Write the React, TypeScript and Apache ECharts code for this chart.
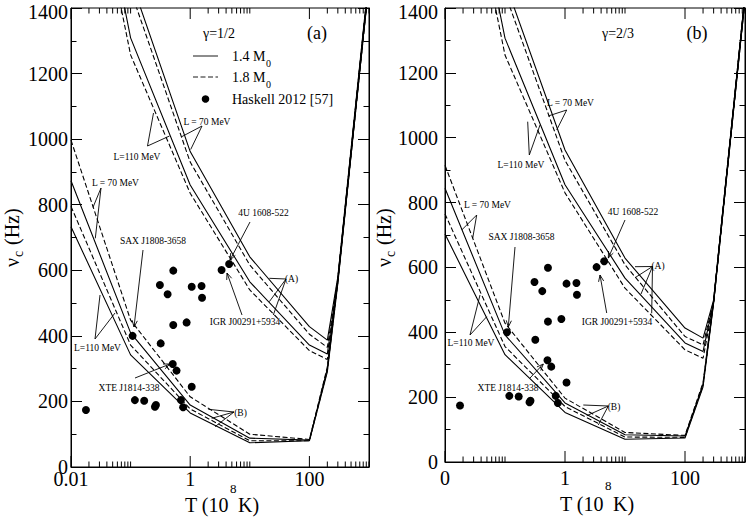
import React, { useEffect, useRef } from "react";
import * as echarts from "echarts";

// ---------- data ----------
const T_UPPER = [0.05, 0.1, 1, 10, 100, 200, 300, 1000];
const T_LOWER = [0.01, 0.1, 1, 10, 100, 200, 300, 1000];

// panel (a)  gamma = 1/2
const A_UP_L70_M14 = [1760, 1488, 962, 641, 428, 387, 580, 1500];
const A_UP_L70_M18 = [1720, 1453, 930, 616, 405, 365, 575, 1490];
const A_UP_L110_M14 = [1584, 1309, 860, 565, 372, 345, 570, 1480];
const A_UP_L110_M18 = [1528, 1257, 835, 540, 355, 328, 565, 1475];
const A_LO_L70_M18 = [997, 448, 214, 100, 84, 305, 575, 1495];
const A_LO_L70_M14 = [873, 409, 189, 88, 82, 300, 570, 1490];
const A_LO_L110_M18 = [795, 372, 177, 80, 80, 295, 565, 1485];
const A_LO_L110_M14 = [733, 342, 165, 74, 80, 290, 560, 1480];

// panel (b)  gamma = 2/3
const B_UP_L70_M14 = [1760, 1480, 962, 629, 413, 382, 500, 1440];
const B_UP_L70_M18 = [1720, 1445, 930, 608, 387, 361, 497, 1435];
const B_UP_L110_M14 = [1584, 1307, 855, 567, 367, 341, 494, 1430];
const B_UP_L110_M18 = [1530, 1255, 830, 536, 346, 320, 490, 1425];
const B_LO_L70_M18 = [915, 428, 197, 91, 82, 245, 500, 1440];
const B_LO_L70_M14 = [844, 392, 182, 84, 80, 240, 497, 1435];
const B_LO_L110_M18 = [765, 356, 171, 77, 76, 236, 494, 1430];
const B_LO_L110_M14 = [703, 331, 153, 70, 74, 232, 490, 1425];

// Haskell 2012 [57]
const HASKELL_T = [0.0178, 0.108, 0.118, 0.169, 0.256, 0.266, 0.31, 0.32, 0.418, 0.52, 0.52, 0.51, 0.59, 0.7, 0.76, 0.87, 1.06, 1.06, 1.55, 1.58, 3.36, 4.5];
const HASKELL_NU = [174, 400, 204, 202, 184, 189, 555, 377, 527, 599, 433, 314, 294, 204, 182, 441, 550, 245, 552, 516, 601, 619];

// axes
const X_MIN = 0.01;
const X_MAX = 1000;
const X_MAJOR = [0.01, 1, 100];
const X_LABELS_A = ["0.01", "1", "100"];
const X_LABELS_B = ["0", "1", "100"];
const MINOR_MULT = [2, 3, 4, 5, 6, 7, 8, 9, 10];
const Y_MIN = 0;
const Y_MAX = 1400;
const Y_STEP = 200;

const FONT = "'Liberation Serif', 'Times New Roman', Times, serif";

// ---------- helpers ----------
type Curve = { t: number[]; v: number[]; dashed: boolean };

const PANELS: { curves: Curve[]; labels: string[] }[] = [
  {
    labels: X_LABELS_A,
    curves: [
      { t: T_UPPER, v: A_UP_L70_M14, dashed: false },
      { t: T_UPPER, v: A_UP_L70_M18, dashed: true },
      { t: T_UPPER, v: A_UP_L110_M14, dashed: false },
      { t: T_UPPER, v: A_UP_L110_M18, dashed: true },
      { t: T_LOWER, v: A_LO_L70_M18, dashed: true },
      { t: T_LOWER, v: A_LO_L70_M14, dashed: false },
      { t: T_LOWER, v: A_LO_L110_M18, dashed: true },
      { t: T_LOWER, v: A_LO_L110_M14, dashed: false },
    ],
  },
  {
    labels: X_LABELS_B,
    curves: [
      { t: T_UPPER, v: B_UP_L70_M14, dashed: false },
      { t: T_UPPER, v: B_UP_L70_M18, dashed: true },
      { t: T_UPPER, v: B_UP_L110_M14, dashed: false },
      { t: T_UPPER, v: B_UP_L110_M18, dashed: true },
      { t: T_LOWER, v: B_LO_L70_M18, dashed: true },
      { t: T_LOWER, v: B_LO_L70_M14, dashed: false },
      { t: T_LOWER, v: B_LO_L110_M18, dashed: true },
      { t: T_LOWER, v: B_LO_L110_M14, dashed: false },
    ],
  },
];

const DASH = [5, 2.5];

function txt(x: number, y: number, text: string, size: number, align = "center") {
  return {
    type: "text",
    x,
    y,
    silent: true,
    style: { text, fontSize: size, fontFamily: FONT, fill: "#000", align, verticalAlign: "middle" },
  };
}
function seg(x1: number, y1: number, x2: number, y2: number, dash?: number[]) {
  return {
    type: "line",
    silent: true,
    shape: { x1, y1, x2, y2 },
    style: { stroke: "#000", lineWidth: 0.9, lineDash: dash || null },
  };
}
function arrow(x1: number, y1: number, x2: number, y2: number) {
  const a = Math.atan2(y2 - y1, x2 - x1);
  const L = 7;
  const w = 0.38;
  const p1 = [x2 - L * Math.cos(a - w), y2 - L * Math.sin(a - w)];
  const p2 = [x2 - L * Math.cos(a + w), y2 - L * Math.sin(a + w)];
  return [
    seg(x1, y1, x2, y2),
    {
      type: "polyline",
      silent: true,
      shape: { points: [p1, [x2, y2], p2] },
      style: { stroke: "#000", fill: null, lineWidth: 0.9 },
    },
  ];
}
function fan(x: number, y: number, ends: number[][]) {
  return ends.map((e) => seg(x, y, e[0], e[1]));
}

const ANN = 9.5;

function buildGraphics() {
  const g: any[] = [];
  // ----- panel (a) texts -----
  g.push(txt(219, 33, "γ=1/2", 14));
  g.push(txt(317, 33, "(a)", 18));
  // legend
  g.push(seg(193, 56, 218, 56));
  g.push(seg(193, 77, 218, 77, DASH));
  g.push({ type: "circle", silent: true, shape: { cx: 205.5, cy: 99, r: 3.8 }, style: { fill: "#000" } });
  g.push(txt(232, 56, "1.4 M", 14, "left"));
  g.push(txt(266, 63, "0", 10, "left"));
  g.push(txt(232, 77, "1.8 M", 14, "left"));
  g.push(txt(266, 84, "0", 10, "left"));
  g.push(txt(232, 99, "Haskell 2012 [57]", 14, "left"));

  // annotations (a)
  g.push(txt(207, 122, "L = 70 MeV", ANN));
  g.push(...fan(202, 126, [[181.7, 136.7], [190.7, 149.5]]));
  g.push(txt(137, 157, "L=110 MeV", ANN));
  g.push(...fan(147.5, 146, [[153.5, 113], [169.5, 136]]));
  g.push(txt(115.5, 183, "L = 70 MeV", ANN));
  g.push(...fan(101, 188, [[93, 207.3], [95.3, 238.3]]));
  g.push(txt(97.5, 348, "L=110 MeV", ANN));
  g.push(...fan(95, 339, [[100, 295], [115, 313]]));
  g.push(txt(153, 241, "SAX J1808-3658", ANN));
  g.push(...arrow(143, 250, 134, 327));
  g.push(txt(129, 388, "XTE J1814-338", ANN));
  g.push(...arrow(135, 378, 170, 364));
  g.push(txt(263.5, 213, "4U 1608-522", ANN));
  g.push(...arrow(250, 222, 230, 260));
  g.push(txt(245, 322, "IGR J00291+5934", ANN));
  g.push(...arrow(242, 315, 227, 273));
  g.push(txt(291.5, 279, "(A)", ANN));
  g.push(...fan(286, 279, [[269.3, 278.3], [269.3, 301.7], [273.3, 315]]));
  g.push(txt(240.5, 413, "(B)", ANN));
  g.push(...fan(234, 412, [[208.3, 409.3], [211.7, 418.3], [215, 426.7]]));

  // ----- panel (b) texts -----
  g.push(txt(618, 33, "γ=2/3", 14));
  g.push(txt(697, 33, "(b)", 18));
  g.push(txt(570.5, 103, "L = 70 MeV", ANN));
  g.push(...fan(566.7, 110, [[548.3, 116], [556.7, 130]]));
  g.push(txt(521, 165, "L=110 MeV", ANN));
  g.push(...fan(529.3, 155, [[527.7, 121.7], [540, 125]]));
  g.push(txt(487.5, 205, "L = 70 MeV", ANN));
  g.push(...fan(476.7, 215, [[461.7, 230], [472.7, 238.3]]));
  g.push(txt(471, 343, "L=110 MeV", ANN));
  g.push(...fan(470, 335, [[480, 295], [486.7, 316.7]]));
  g.push(txt(521.5, 237, "SAX J1808-3658", ANN));
  g.push(...arrow(515, 247, 508.3, 327));
  g.push(txt(508, 388, "XTE J1814-338", ANN));
  g.push(...arrow(530, 378, 543.3, 364));
  g.push(txt(633, 212, "4U 1608-522", ANN));
  g.push(...arrow(625, 220, 608.3, 258));
  g.push(txt(617, 322, "IGR J00291+5934", ANN));
  g.push(...arrow(606.7, 313, 600, 275));
  g.push(txt(658, 266, "(A)", ANN));
  g.push(...fan(652.5, 266.5, [[635, 266.7], [635, 277.7], [641, 294], [651.7, 313.3]]));
  g.push(txt(614, 406.7, "(B)", ANN));
  g.push(...fan(608.3, 406, [[583.3, 405], [586.7, 415.7], [598.3, 425]]));

  // ----- axis titles -----
  const xTitle = (x0: number, y: number, ySup: number) => [
    txt(x0, y, "T (10", 20, "left"),
    txt(x0 + 45, ySup, "8", 13, "left"),
    txt(x0 + 53, y, "K)", 20, "left"),
  ];
  g.push(...xTitle(185, 505, 488));
  g.push(...xTitle(560, 504, 485));

  const yTitle = (x: number, y: number) => ({
    type: "group",
    x,
    y,
    rotation: Math.PI / 2,
    silent: true,
    children: [
      txt(-30, 0, "ν", 20, "left"),
      txt(-20, 6, "c", 14, "left"),
      txt(-8, 0, "(Hz)", 20, "left"),
    ],
  });
  g.push(yTitle(12, 237));
  g.push(yTitle(384, 237));
  return g;
}

function tickSeries(panel: number) {
  return {
    type: "custom",
    xAxisIndex: panel,
    yAxisIndex: panel * 2,
    silent: true,
    clip: false,
    z: 10,
    data: [[1, 0]],
    renderItem: (_p: any, api: any) => {
      const children: any[] = [];
      const add = (t: number, len: number) => {
        const b = api.coord([t, Y_MIN]);
        const tp = api.coord([t, Y_MAX]);
        children.push({ type: "line", shape: { x1: b[0], y1: b[1], x2: b[0], y2: b[1] - len }, style: { stroke: "#000", lineWidth: 1 } });
        children.push({ type: "line", shape: { x1: tp[0], y1: tp[1], x2: tp[0], y2: tp[1] + len }, style: { stroke: "#000", lineWidth: 1 } });
      };
      X_MAJOR.forEach((t) => add(t, 11));
      X_MAJOR.forEach((m) =>
        MINOR_MULT.forEach((k) => {
          const t = m * k;
          if (t <= X_MAX * 1.0001) add(t, 5.5);
        })
      );
      return { type: "group", children };
    },
  };
}

function buildOption() {
  const grids = [
    { left: 71, top: 8, width: 298, height: 459 },
    { left: 445, top: 8, width: 300, height: 454 },
  ].map((g) => ({
    ...g,
    show: true,
    borderColor: "#000",
    borderWidth: 1,
    backgroundColor: "transparent",
    containLabel: false,
    outerBoundsMode: "none",
  }));

  const xAxes = PANELS.map((p, i) => ({
    type: "log",
    logBase: 10,
    gridIndex: i,
    min: X_MIN,
    max: X_MAX,
    axisLine: { show: true, lineStyle: { color: "#000", width: 1 } },
    axisTick: { show: false },
    splitLine: { show: false },
    axisLabel: {
      show: true,
      color: "#000",
      fontFamily: FONT,
      fontSize: 20,
      margin: i === 0 ? 2 : 6,
      showMinLabel: true,
      showMaxLabel: true,
      formatter: (v: number) => {
        const l = Math.round(Math.log10(v));
        const idx = X_MAJOR.findIndex((m) => Math.round(Math.log10(m)) === l);
        return idx >= 0 ? p.labels[idx] : "";
      },
    },
  }));

  const yAxes: any[] = [];
  PANELS.forEach((_p, i) => {
    ["left", "right"].forEach((pos) => {
      yAxes.push({
        type: "value",
        gridIndex: i,
        position: pos,
        min: Y_MIN,
        max: Y_MAX,
        interval: Y_STEP,
        axisLine: { show: true, lineStyle: { color: "#000", width: 1 } },
        axisTick: { show: true, inside: true, length: 11, lineStyle: { color: "#000", width: 1 } },
        minorTick: { show: true, splitNumber: 2, length: 5.5, lineStyle: { color: "#000", width: 1 } },
        splitLine: { show: false },
        minorSplitLine: { show: false },
        axisLabel: {
          show: pos === "left",
          color: "#000",
          fontFamily: FONT,
          fontSize: 20,
          margin: i === 0 ? 3 : 7,
          formatter: (v: number) => (v === Y_MAX ? "{top|" + v + "}" : String(v)),
          rich: { top: { fontSize: 20, fontFamily: FONT, color: "#000", padding: [8, 0, 0, 0] } },
        },
      });
    });
  });

  const series: any[] = [];
  PANELS.forEach((p, i) => {
    p.curves.forEach((c) => {
      series.push({
        type: "line",
        xAxisIndex: i,
        yAxisIndex: i * 2,
        data: c.t.map((t, k) => [t, c.v[k]]),
        symbol: "none",
        showSymbol: false,
        silent: true,
        clip: true,
        lineStyle: { color: "#000", width: 1.1, type: c.dashed ? DASH : "solid" },
      });
    });
    series.push({
      type: "scatter",
      xAxisIndex: i,
      yAxisIndex: i * 2,
      data: HASKELL_T.map((t, k) => [t, HASKELL_NU[k]]),
      symbol: "circle",
      symbolSize: 8,
      silent: true,
      itemStyle: { color: "#000", opacity: 1 },
    });
    series.push(tickSeries(i));
  });

  return {
    animation: false,
    backgroundColor: "#fff",
    textStyle: { fontFamily: FONT },
    grid: grids,
    xAxis: xAxes,
    yAxis: yAxes,
    series,
    graphic: buildGraphics(),
  };
}

export default function App() {
  const ref = useRef<HTMLDivElement>(null);
  useEffect(() => {
    if (!ref.current) return;
    const chart = echarts.init(ref.current, null, { renderer: "svg" });
    chart.setOption(buildOption() as any);
    return () => chart.dispose();
  }, []);
  return (
    <div
      ref={ref}
      style={{ position: "absolute", left: 0, top: 0, width: 747, height: 518, background: "#fff" }}
    />
  );
}
